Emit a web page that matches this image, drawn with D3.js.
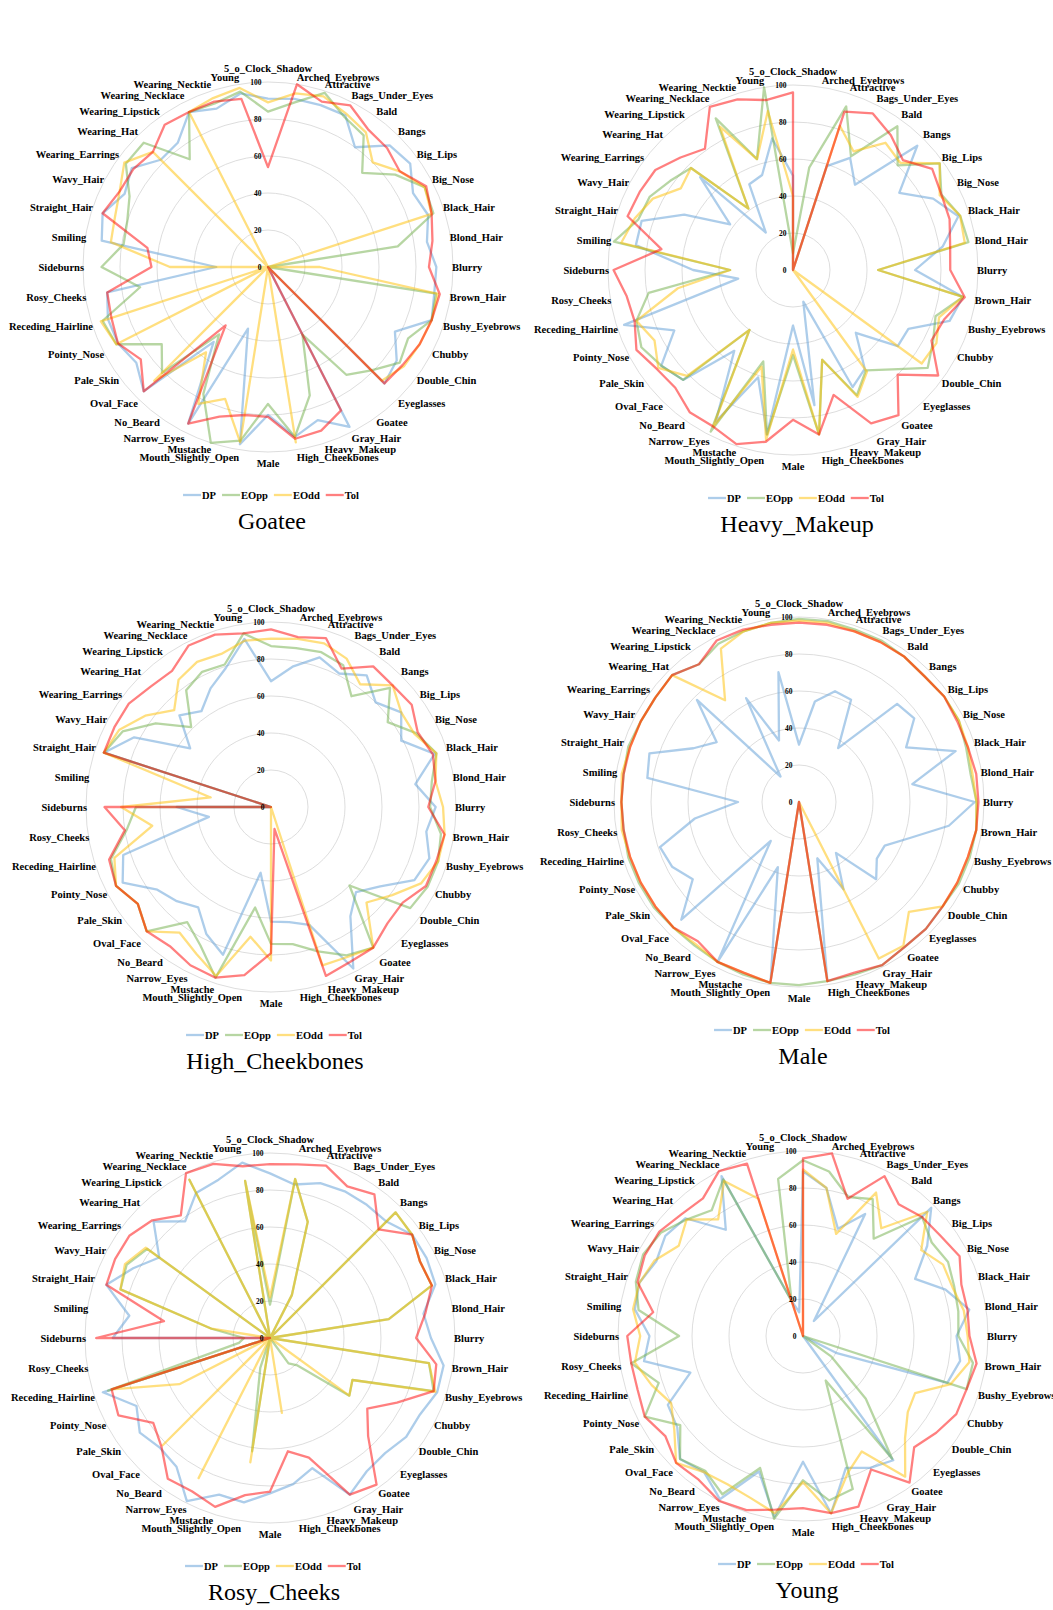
<!DOCTYPE html>
<html>
<head>
<meta charset="utf-8">
<script src="https://cdn.jsdelivr.net/npm/d3@7"></script>
<style>
  body { margin: 0; background: #fff; }
  svg text { font-family: "Liberation Serif", "Times New Roman", serif; fill: #000; }
</style>
</head>
<body>
<svg id="chart" width="1053" height="1610"></svg>
<script>
// Facial attributes, clockwise from the top of each radar.
const attributes = [
  "5_o_Clock_Shadow", "Arched_Eyebrows", "Attractive", "Bags_Under_Eyes", "Bald",
  "Bangs", "Big_Lips", "Big_Nose", "Black_Hair", "Blond_Hair",
  "Blurry", "Brown_Hair", "Bushy_Eyebrows", "Chubby", "Double_Chin",
  "Eyeglasses", "Goatee", "Gray_Hair", "Heavy_Makeup", "High_Cheekbones",
  "Male", "Mouth_Slightly_Open", "Mustache", "Narrow_Eyes", "No_Beard",
  "Oval_Face", "Pale_Skin", "Pointy_Nose", "Receding_Hairline", "Rosy_Cheeks",
  "Sideburns", "Smiling", "Straight_Hair", "Wavy_Hair", "Wearing_Earrings",
  "Wearing_Hat", "Wearing_Lipstick", "Wearing_Necklace", "Wearing_Necktie", "Young"
];

const seriesNames = ["DP", "EOpp", "EOdd", "Tol"];
const seriesColors = ["#5B9BD5", "#70AD47", "#FFC000", "#FF0000"];
const radialTicks = [0, 20, 40, 60, 80, 100];
const panelTitles = ["Goatee", "Heavy_Makeup", "High_Cheekbones", "Male", "Rosy_Cheeks", "Young"];

// Goatee
const goateeDP   = [91,92,92,92,80,93,95,88,91,87, 91,91,93,77,86,89,0,97,87,93, 80,97,35,95,50,95,88,91,91,88, 28,91,94,87,91,82,83,94,90,95];
const goateeEOpp = [84,90,99,91,88,72,85,95,94,71, 0,92,93,85,88,79,72,41,73,93, 74,95,100,77,45,81,71,92,94,70, 90,79,80,84,95,95,72,94,93,96];
const goateeEOdd = [89,95,97,93,90,80,88,95,93,0, 28,93,93,92,91,87,0,0,0,96, 0,96,75,83,57,87,0,92,95,0, 53,86,87,90,96,88,0,94,96,98];
const goateeTol  = [54,100,94,98,92,91,88,96,93,90, 87,94,93,92,90,89,0,87,93,94, 81,81,85,95,39,95,85,91,89,88, 63,66,94,90,90,88,95,94,94,92];

// Heavy_Makeup
const makeupDP   = [51,0,59,68,57,95,71,85,94,82, 66,93,89,70,70,48,66,71,18,74, 30,90,61,92,54,84,88,72,96,30, 54,86,86,66,42,71,25,52,54,72];
const makeupEOpp = [9,56,93,69,96,80,98,90,95,96, 46,93,81,85,90,76,67,76,51,90, 46,90,52,98,40,84,88,92,89,79, 34,98,88,87,82,78,41,92,63,100];
const makeupEOdd = [40,0,82,72,85,82,98,89,95,94, 46,93,83,87,86,0,68,77,51,90, 43,93,55,95,40,81,90,84,89,63, 34,94,90,85,75,78,41,87,63,87];
const makeupTol  = [96,0,90,95,90,84,93,90,89,86, 85,94,86,84,97,80,97,93,71,90, 81,94,99,95,95,90,91,95,90,91, 97,72,94,93,92,86,81,99,97,93];

// High_Cheekbones
const cheekDP   = [68,77,85,81,88,80,87,79,93,79, 89,85,90,87,73,65,73,98,67,63, 62,36,84,77,67,72,76,90,84,34, 51,0,95,83,54,70,64,72,79,92];
const cheekEOpp = [87,87,88,86,74,91,78,88,94,88, 86,93,95,95,93,60,94,90,82,75, 74,55,97,84,77,95,89,94,91,79, 73,0,95,90,77,61,78,82,81,95];
const cheekEOdd = [91,92,93,90,82,93,87,87,94,90, 93,95,95,91,81,73,94,91,90,0, 83,71,96,89,84,95,89,94,89,65, 81,33,95,92,84,74,85,88,87,91];
const cheekTol  = [96,93,96,84,94,93,94,89,92,90, 85,95,94,94,88,89,94,94,96,12, 79,92,97,96,93,95,89,94,92,80, 90,0,95,95,95,92,91,98,98,95];

// Male
const maleDP   = [31,55,63,62,36,75,77,65,89,62, 95,82,63,52,52,59,34,53,32,98, 0,98,37,97,26,90,71,77,79,57, 33,83,85,64,55,78,17,63,35,71];
const maleEOpp = [99,99,98,98,97,96,97,97,95,94, 96,97,97,97,96,97,97,99,98,98, 99,99,98,97,96,96,97,97,97,96, 96,96,97,96,96,97,92,96,97,98];
const maleEOdd = [98,98,97,97,97,96,97,97,96,95, 96,97,96,96,96,84,96,95,0,98, 0,99,97,97,95,96,96,96,96,97, 96,97,96,96,96,97,68,93,97,98];
const maleTol  = [97,97,97,97,97,96,97,96,96,97, 97,97,96,96,96,97,97,99,97,98, 0,99,97,97,93,96,96,96,96,96, 96,96,96,96,96,97,92,98,98,97];

// Rosy_Cheeks
const rosyDP   = [89,84,88,89,89,89,95,95,94,84, 87,95,95,91,91,88,89,95,74,80, 84,90,89,99,86,84,87,81,95,0, 85,77,93,83,74,89,78,88,90,96];
const rosyEOpp = [18,87,66,26,0,96,95,91,92,65, 0,87,93,50,53,21,17,0,0,0, 0,62,17,0,0,0,0,0,92,17, 14,32,85,87,82,0,0,96,0,86];
const rosyEOdd = [22,87,66,26,0,96,95,91,92,65, 0,87,94,50,53,0,0,0,0,41, 0,68,0,85,0,82,0,55,90,0, 0,32,85,88,83,0,0,96,0,86];
const rosyTol  = [94,95,98,92,96,83,95,91,92,85, 79,91,93,77,65,75,98,95,68,62, 83,86,96,93,94,83,78,92,90,0, 94,58,93,94,94,90,82,100,99,94];

// Young
const youngDP   = [89,81,61,74,10,98,83,68,81,91, 83,86,82,20,0,0,83,80,75,97, 68,99,77,99,91,94,84,82,64,87, 83,92,93,89,92,90,71,97,20,13];
const youngEOpp = [95,90,79,83,65,91,86,88,86,85, 84,93,93,0,19,48,82,27,87,90, 78,100,75,96,90,94,82,96,82,94, 67,90,95,97,95,89,84,95,20,86];
const youngEOdd = [90,81,58,87,72,95,79,85,85,88, 89,91,84,68,70,78,94,70,78,97, 79,97,92,90,91,97,86,80,86,92, 88,93,93,90,83,89,78,94,78,0];
const youngTol  = [96,100,78,97,88,91,92,95,90,90, 90,95,93,93,89,85,98,81,97,97, 93,95,99,100,96,97,92,96,94,94, 95,82,94,96,96,93,92,100,98,0];

const panelSeries = [
  [goateeDP, goateeEOpp, goateeEOdd, goateeTol],
  [makeupDP, makeupEOpp, makeupEOdd, makeupTol],
  [cheekDP, cheekEOpp, cheekEOdd, cheekTol],
  [maleDP, maleEOpp, maleEOdd, maleTol],
  [rosyDP, rosyEOpp, rosyEOdd, rosyTol],
  [youngDP, youngEOpp, youngEOdd, youngTol]
];

// Layout: centre of every radar
const centers = [[268, 267], [793, 270], [271, 807], [799, 802], [270, 1338], [803, 1336]];
const R = 185;

const svg = d3.select("#chart");
const n = attributes.length;
const angle = d3.scaleLinear().domain([0, n]).range([0, 2 * Math.PI]);
const radius = d3.scaleLinear().domain([0, 100]).range([0, R]);

panelTitles.forEach((title, p) => {
  const [cx, cy] = centers[p];
  const g = svg.append("g").attr("transform", `translate(${cx},${cy})`);

  // circular gridlines
  g.selectAll("circle.grid")
    .data(radialTicks.filter(t => t > 0))
    .join("circle")
    .attr("class", "grid")
    .attr("r", d => radius(d))
    .attr("fill", "none")
    .attr("stroke", "#d9d9d9")
    .attr("stroke-width", 0.9);

  // series polygons
  const line = d3.lineRadial()
    .angle((d, i) => angle(i))
    .radius(d => radius(d))
    .curve(d3.curveLinearClosed);

  panelSeries[p].forEach((values, s) => {
    g.append("path")
      .datum(values)
      .attr("d", line)
      .attr("fill", "none")
      .attr("stroke", seriesColors[s])
      .attr("stroke-opacity", 0.5)
      .attr("stroke-width", 2.3)
      .attr("stroke-linejoin", "round");
  });

  // radial tick labels
  g.selectAll("text.tick")
    .data(radialTicks)
    .join("text")
    .attr("class", "tick")
    .attr("x", -6.5)
    .attr("y", d => -radius(d))
    .attr("dy", "0.35em")
    .attr("text-anchor", "end")
    .attr("font-size", 7.5)
    .attr("font-weight", "bold")
    .text(d => d);

  // attribute labels around the rim
  const L = R - 1;
  g.selectAll("text.cat")
    .data(attributes)
    .join("text")
    .attr("class", "cat")
    .each(function(d, i) {
      const a = angle(i);
      const sx = Math.sin(a), cy0 = Math.cos(a);
      let x = L * sx, y = -L * cy0;
      let anchor = "middle";
      if (sx > 0.01) anchor = "start";
      else if (sx < -0.01) anchor = "end";
      let dy = -8.2 * cy0;
      if (i === 0) dy = -15;
      if (i === n / 2) dy = 12;
      d3.select(this)
        .attr("x", x)
        .attr("y", y + dy)
        .attr("dy", "0.35em")
        .attr("text-anchor", anchor);
    })
    .attr("font-size", 10.5)
    .attr("font-weight", "bold")
    .text(d => d);

  // legend
  const lg = g.append("g").attr("transform", `translate(0,${228})`);
  const items = [];
  let xpos = 0;
  seriesNames.forEach((name, s) => {
    const it = lg.append("g");
    it.append("line")
      .attr("x1", xpos).attr("x2", xpos + 18)
      .attr("y1", 0).attr("y2", 0)
      .attr("stroke", seriesColors[s])
      .attr("stroke-opacity", 0.5)
      .attr("stroke-width", 2.3);
    const t = it.append("text")
      .attr("x", xpos + 19)
      .attr("y", 0)
      .attr("dy", "0.35em")
      .attr("font-size", 10.5)
      .attr("font-weight", "bold")
      .text(name);
    xpos += 19 + t.node().getComputedTextLength() + 6;
    items.push(it);
  });
  const total = xpos - 6;
  lg.attr("transform", `translate(${3 - total / 2},228)`);

  // panel title
  g.append("text")
    .attr("x", 4)
    .attr("y", 262)
    .attr("text-anchor", "middle")
    .attr("font-size", 24)
    .text(title);
});
</script>
</body>
</html>
